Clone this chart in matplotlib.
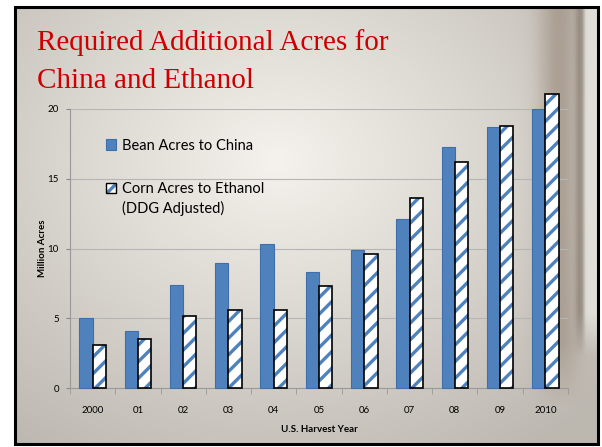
import numpy as np
import matplotlib.pyplot as plt
from matplotlib.patches import Patch, Rectangle
from matplotlib.legend_handler import HandlerTuple

# chart data
years = ['2000', '01', '02', '03', '04', '05', '06', '07', '08', '09', '2010']
bean_china = [5.0, 4.1, 7.4, 9.0, 10.3, 8.3, 9.9, 12.1, 17.3, 18.7, 20.0]
corn_ethanol = [3.1, 3.5, 5.2, 5.6, 5.6, 7.3, 9.6, 13.6, 16.2, 18.8, 21.1]
y_ticks = [0, 5, 10, 15, 20]

blue = '#4F81BD'
plt.rcParams['hatch.linewidth'] = 2.4
plt.rcParams['font.family'] = ['Lato', 'DejaVu Sans']

fig = plt.figure(figsize=(6.02, 4.47), dpi=100)

# slide background (light paper texture approximation with a pillar on the right)
bg = fig.add_axes([15/602, 3/447, 583/602, 437/447], zorder=0)
h, w = 220, 400
yy, xx = np.mgrid[0:1:h*1j, 0:1:w*1j]
r = np.sqrt(((xx - 0.45) / 0.75) ** 2 + ((yy - 0.35) / 0.8) ** 2)
t = np.clip(r, 0, 1)[..., None]
centre = np.array([0.96, 0.95, 0.93])
edge = np.array([0.74, 0.72, 0.69])
img = centre * (1 - t) + edge * t
# pillar band
band = np.exp(-((xx - 0.935) / 0.035) ** 2) * np.clip((0.92 - yy) / 0.15, 0, 1)
band = band[..., None]
img = img * (1 - 0.9 * band) + np.array([0.66, 0.61, 0.56]) * 0.9 * band
dark = (np.exp(-((xx - 0.97) / 0.008) ** 2) * np.clip((0.8 - yy) / 0.1, 0, 1))[..., None]
img = img * (1 - 0.6 * dark) + np.array([0.50, 0.45, 0.40]) * 0.6 * dark
light = (np.clip((xx - 0.975) / 0.006, 0, 1) * np.clip((0.8 - yy) / 0.1, 0, 1))[..., None]
img = img * (1 - 0.85 * light) + np.array([0.90, 0.89, 0.87]) * 0.85 * light
bg.imshow(img, aspect='auto', extent=[0, 1, 0, 1], origin='upper')
bg.set_axis_off()
fig.patches.append(Rectangle((15/602, 3/447), 583/602, 437/447, transform=fig.transFigure,
                             fill=False, edgecolor='black', linewidth=2.2, zorder=5))

ax = fig.add_axes([70/602, 58.7/447, 498/602, 279.3/447], zorder=2)
ax.patch.set_alpha(0)

x = np.arange(len(years))
bw = 0.294
ax.bar(x - bw/2, bean_china, bw, color=blue, edgecolor='#3F6FA8', linewidth=0.8,
       clip_on=False, zorder=3)
# hatch drawn in blue, outline drawn separately in black
ax.bar(x + bw/2, corn_ethanol, bw, color='white', edgecolor=blue, linewidth=0,
       hatch='//', clip_on=False, zorder=3)
ax.bar(x + bw/2, corn_ethanol, bw, fill=False, edgecolor='black', linewidth=1.2,
       clip_on=False, zorder=4)

ax.set_xlim(-0.5, len(years) - 0.5)
ax.set_ylim(0, 20)
ax.set_yticks(y_ticks)
ax.set_xticks(x)
ax.set_xticklabels(years, fontsize=7)
ax.tick_params(axis='y', labelsize=7, length=3, color='#888888', pad=5)
ax.tick_params(axis='x', length=0, pad=13)
ax.set_xticks(np.arange(-0.5, len(years)), minor=True)
ax.tick_params(axis='x', which='minor', length=4, color='#999999')
ax.yaxis.grid(True, color='#b5b5b5', linewidth=0.8)
ax.set_axisbelow(True)
for s in ['top', 'right']:
    ax.spines[s].set_visible(False)
ax.spines['left'].set_color('#999999')
ax.spines['bottom'].set_color('#999999')

ax.set_ylabel('Million Acres', fontsize=7, fontweight='bold', labelpad=0.5)
ax.set_xlabel('U.S. Harvest Year', fontsize=7, fontweight='bold', labelpad=7)

bean_handle = Patch(facecolor=blue, edgecolor='#3F6FA8', linewidth=0.8)
corn_handle = (Patch(facecolor='white', edgecolor=blue, linewidth=0, hatch='//'),
               Patch(fill=False, edgecolor='black', linewidth=1.0))
leg = ax.legend([bean_handle, corn_handle], ['Bean Acres to China', 'Corn Acres to Ethanol'],
                handler_map={tuple: HandlerTuple(ndivide=1, pad=0)},
                loc='upper left', bbox_to_anchor=(0.045, 0.94),
                frameon=False, fontsize=10.5, handlelength=0.75, handleheight=0.75,
                handletextpad=0.4, labelspacing=2.0)

# second line of the corn legend label, placed under its first line
fig.canvas.draw()
corn_txt = leg.get_texts()[1]
bb = corn_txt.get_window_extent().transformed(fig.transFigure.inverted())
fig.text(bb.x0, bb.y0 - 5/447, '(DDG Adjusted)', fontsize=10.5, va='top', ha='left',
         zorder=3)

fig.text(37/602, 1 - 29/447, 'Required Additional Acres for\nChina and Ethanol',
         fontsize=21, color='#CC0000', family='Liberation Serif', va='top', ha='left',
         linespacing=1.62)

fig.savefig('out.png', dpi=100)
